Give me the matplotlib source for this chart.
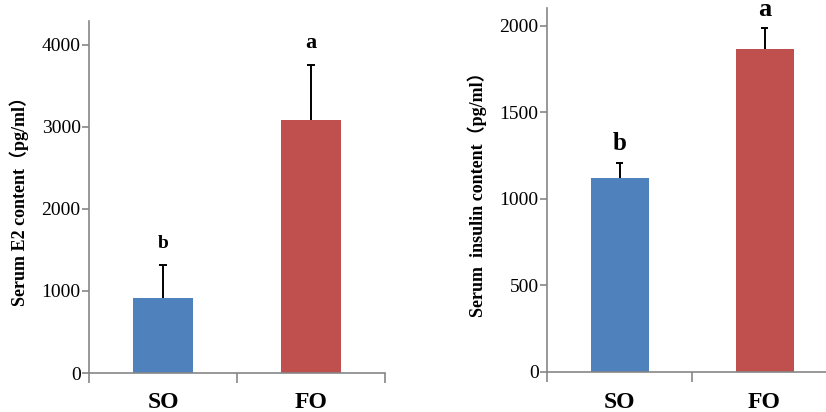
import matplotlib
matplotlib.use("Agg")
import matplotlib.pyplot as plt
import numpy as np

plt.rcParams['font.family'] = ['Liberation Serif', 'Noto Sans CJK SC']

groups = ['SO', 'FO']
colors = ['#4F81BD', '#C0504D']

e2_mean = [915, 3080]
e2_err = [405, 670]
e2_letters = ['b', 'a']

ins_mean = [1120, 1866]
ins_err = [88, 122]
ins_letters = ['b', 'a']

axis_col = '#868686'

fig = plt.figure(figsize=(8.26, 4.12), dpi=100)
ax1 = fig.add_axes([89/826, 1-373/412, (385-89)/826, (373-21)/412])
ax2 = fig.add_axes([547/826, 1-372/412, (837-547)/826, (372-8)/412])


def draw(ax, means, errs, letters, ylim, yticks, ylabel, letter_y, letter_size, lpad):
    x = np.arange(len(groups))
    ax.bar(x, means, width=0.4, color=colors, zorder=2)
    tops = np.array(means) + np.array(errs)
    # upper-only error bars: stem plus a cap at the top
    ax.vlines(x, means, tops, color='black', linewidth=1.4, zorder=3)
    ax.hlines(tops, x - 0.025, x + 0.025, color='black', linewidth=1.4, zorder=3)
    for xi, lt, ly, fs in zip(x, letters, letter_y, letter_size):
        ax.text(xi, ly, lt, ha='center', va='baseline', fontsize=fs,
                fontweight='bold', clip_on=False)
    ax.set_xlim(-0.5, 1.5)
    ax.set_ylim(*ylim)
    ax.set_yticks(yticks)
    ax.set_xticks([-0.5, 0.5, 1.5])
    ax.set_xticklabels([])
    ax.tick_params(axis='x', length=7, color=axis_col, width=1.2)
    ax.tick_params(axis='y', length=5, color=axis_col, width=1.2, labelsize=14, pad=1)
    for xi, g in zip(x, groups):
        ax.text(xi, -0.085, g, transform=ax.get_xaxis_transform(), ha='center',
                va='center', fontsize=17, fontweight='bold')
    for s in ['top', 'right']:
        ax.spines[s].set_visible(False)
    for s in ['left', 'bottom']:
        ax.spines[s].set_color(axis_col)
        ax.spines[s].set_linewidth(1.2)
    ax.set_ylabel(ylabel, fontsize=13, fontweight='bold', labelpad=lpad)


draw(ax1, e2_mean, e2_err, e2_letters, (0, 4290), [0, 1000, 2000, 3000, 4000],
     'Serum E2 content（pg/ml）', [1524, 3963], [14, 16], 9)
draw(ax2, ins_mean, ins_err, ins_letters, (0, 2104), [0, 500, 1000, 1500, 2000],
     'Serum  insulin content（pg/ml）', [1283, 2060], [18, 19], 9)

fig.savefig('out.png', dpi=100)
